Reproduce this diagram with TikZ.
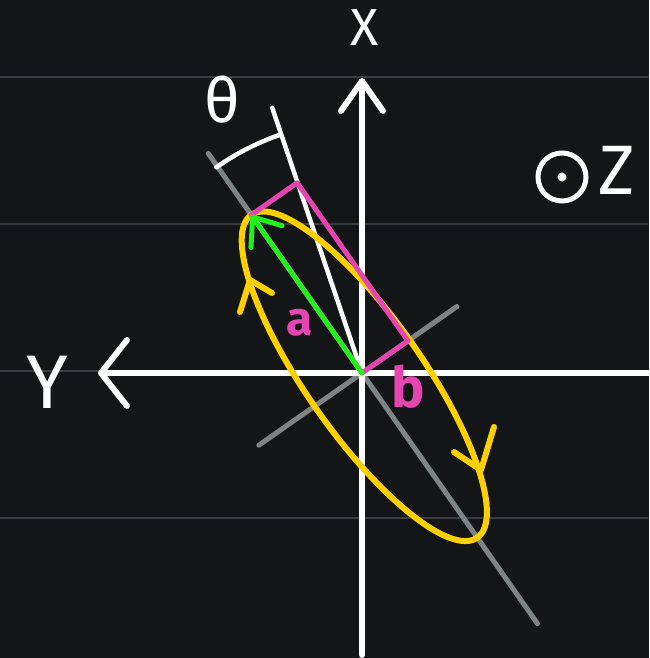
\documentclass[tikz,border=0pt]{standalone}
\usepackage{fontspec}
\setmainfont{Fira Sans}
\usepackage{tikz}
\usetikzlibrary{arrows.meta,calc}
\definecolor{bdInk}{HTML}{131517}
\definecolor{bdRule}{HTML}{3A3C3F}
\definecolor{bdGray}{HTML}{7E8384}
\definecolor{bdGold}{HTML}{FFD000}
\definecolor{bdPink}{HTML}{E545B0}
\definecolor{bdLime}{HTML}{22F01A}
\tikzset{
  page rule/.style={draw=bdRule,line width=2.5pt},
  axis line/.style={draw=white,line width=6pt,line cap=round,line join=round},
  tilt line/.style={draw=bdGray,line width=5pt,line cap=round},
  orbit line/.style={draw=bdGold,line width=6pt,line cap=round,line join=round},
  side line/.style={draw=bdPink,line width=5pt,line cap=round,line join=round},
  hand label/.style={text=white,inner sep=0pt,font=\fontsize{52}{52}\selectfont},
  side label/.style={hand label,text=bdPink,font=\bfseries\fontsize{48}{48}\selectfont}
}
\begin{document}
\begin{tikzpicture}[x=1pt,y=1pt]
\useasboundingbox (-362,-285) rectangle (287,373);
\fill[bdInk] (-362,-285) rectangle (287,373);
% faint page rules
\foreach \ry in {296,149,2,-145}
  \draw[page rule] (-362,\ry) -- (287,\ry);
% points
\coordinate (O) at (0,0);
\coordinate (A) at (125:193);
\coordinate (B) at (35:56);
\coordinate (C) at ($(A)+(B)$);
\coordinate (E) at (-55:4);
\coordinate (major top) at (125:268);
\coordinate (major end) at (-55:306);
\coordinate (minor top) at (35:116);
\coordinate (minor end) at (215:126);
\coordinate (tilt top) at (108.7:280);
\coordinate (x tail) at (0,-282);
\coordinate (x tip) at (0,295);
\coordinate (y tail) at (287,0);
\coordinate (y tip) at (-264,0);
% rotated axes
\draw[tilt line] (major top) -- (major end);
\draw[tilt line] (minor end) -- (minor top);
% lab axes
\draw[axis line,-{Straight Barb[length=30pt,width=42pt,round]}] (x tail) -- (x tip);
\draw[axis line,-{Straight Barb[length=26pt,width=66pt,round]}] (y tail) -- (y tip);
\draw[axis line,line width=4.5pt] (O) -- (tilt top);
% angle mark
\draw[axis line,line width=4.5pt] (125.3:252) arc[start angle=125.3,end angle=109.2,radius=250];
% ellipse with direction marks
\draw[orbit line,rotate=125] (E) ellipse[x radius=197,y radius=58];
\coordinate (up mark) at (-112,93);
\coordinate (down mark) at (119,-97);
\draw[orbit line] ($(up mark)+(-10,-32)$) -- (up mark) -- ($(up mark)+(22,-13)$);
\draw[orbit line] ($(down mark)+(-27,18)$) -- (down mark) -- ($(down mark)+(13,43)$);
% sides a and b
\draw[side line] (O) -- (A) -- (C) -- (B) -- cycle;
\draw[draw=bdLime,line width=5pt,line cap=round,-{Straight Barb[length=24pt,width=38pt,round]}] (O) -- (A);
% labels
\node[hand label] (x label) at (3,345) {X};
\node[hand label,font=\fontsize{76}{76}\selectfont] (y label) at (-315,-9) {Y};
\node[hand label,font=\fontsize{62}{62}\selectfont] (theta label) at (-140,273) {θ};
\node[side label] (a label) at (-62,50) {a};
\node[side label,font=\bfseries\fontsize{56}{56}\selectfont] (b label) at (46,-14) {b};
\node[draw=white,line width=5pt,circle,minimum size=48pt,inner sep=0pt] (z dot) at (200,196) {};
\fill[white] (z dot.center) circle (4.5);
\node[hand label,font=\fontsize{70}{70}\selectfont] (z label) at (255,203) {Z};
\end{tikzpicture}
\end{document}
